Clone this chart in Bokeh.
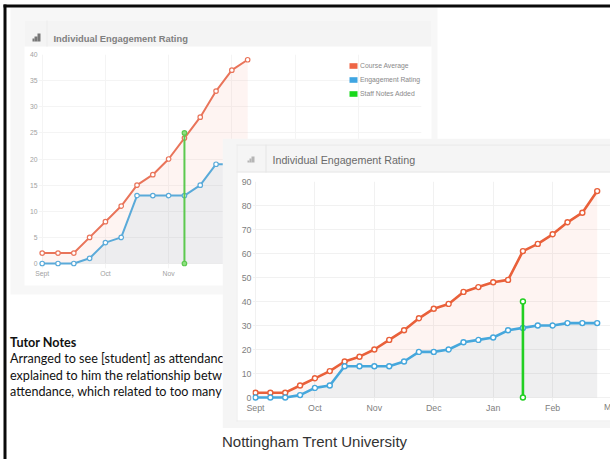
from bokeh.embed import file_html
from bokeh.resources import INLINE
from bokeh.plotting import figure
from bokeh.core.properties import value
from bokeh.models import Range1d, FixedTicker, Legend, LegendItem

# ---- data ----
month_labels = ["Sept", "Oct", "Nov", "Dec", "Jan", "Feb"]
month_ticks = [0, 4, 8, 12, 16, 20]
weeks_all = list(range(24))
course_avg_all = [2, 2, 2, 5, 8, 11, 15, 17, 20, 24, 28, 33, 37, 39, 44, 46, 48, 49, 61, 64, 68, 73, 77, 86]
engagement_all = [0, 0, 0, 1, 4, 5, 13, 13, 13, 13, 15, 19, 19, 20, 23, 24, 25, 28, 29, 30, 30, 31, 31, 31]
weeks_early = weeks_all[:14]
course_avg_early = course_avg_all[:14]
engagement_early = engagement_all[:14]
notes_x_early = [9, 9]
notes_y_early = [0, 25]
notes_x_all = [18, 18]
notes_y_all = [0, 40]
yticks_early = [0, 5, 10, 15, 20, 25, 30, 35, 40]
yticks_all = [0, 10, 20, 30, 40, 50, 60, 70, 80, 90]
legend_names = ["Course Average", "Engagement Rating", "Staff Notes Added"]
title_text = "Individual Engagement Rating"
last_month = "Mar"
notes_title = "Tutor Notes"
notes_lines = ["Arranged to see [student] as attendanc",
               "explained to him the relationship betw",
               "attendance, which related to too many"]
footer = "Nottingham Trent University"

PAGE_W, PAGE_H = 610, 459
NAN = float("nan")


def place(x, y):
    return {"position": "absolute", "left": f"{x}px", "top": f"{y}px"}


def sheet(x, y, w, h):
    """A transparent drawing sheet whose scales are the page's own pixels."""
    p = figure(width=w, height=h, output_backend="svg", toolbar_location=None,
               x_range=Range1d(x, x + w), y_range=Range1d(y + h, y),
               min_border=0, min_border_left=0, min_border_right=0, min_border_top=0, min_border_bottom=0,
               outline_line_color=None, border_fill_alpha=0, background_fill_alpha=0,
               x_axis_location=None, y_axis_location=None, styles=place(x, y))
    p.grid.visible = False
    return p


def box(p, l, t, r, b, color):
    p.quad(left=[l], right=[r], top=[t], bottom=[b], fill_color=color, line_alpha=0, line_width=0)


def label(p, x, y, text, size, color, font="Liberation Sans", style="normal", align="left"):
    p.text(x=[x], y=[y], text=[text], text_font=value(font), text_font_size=value(size),
           text_color=color, text_font_style=style, text_align=align, text_baseline="middle")


def chart(X, Y, W, H, L, R, T, B, px, py, x0, y0, ytop):
    p = figure(width=W, height=H, output_backend="svg", toolbar_location=None,
               x_range=Range1d((L - x0) / px, (R - x0) / px),
               y_range=Range1d(-(B - y0) / py, ytop),
               min_border_left=L - X, min_border_right=X + W - R, min_border_top=T - Y,
               min_border_bottom=Y + H - B, outline_line_color=None,
               border_fill_alpha=0, background_fill_alpha=0, styles=place(X, Y))
    return p


def style_axes(p, xt, yt, size, color, grid):
    p.xaxis.ticker = FixedTicker(ticks=xt)
    p.xaxis.major_label_overrides = dict(zip(xt, month_labels))
    p.yaxis.ticker = FixedTicker(ticks=yt)
    for ax in (p.xaxis[0], p.yaxis[0]):
        ax.axis_line_color = None
        ax.major_tick_line_color = None
        ax.minor_tick_line_color = None
        ax.major_tick_out = 0
        ax.major_tick_in = 0
        ax.minor_tick_out = 0
        ax.minor_tick_in = 0
        ax.major_label_standoff = 1
        ax.major_label_text_font = "Liberation Sans"
        ax.major_label_text_font_size = size
        ax.major_label_text_color = color
    p.xgrid.ticker = FixedTicker(ticks=xt + [24])
    p.ygrid.ticker = FixedTicker(ticks=yt)
    p.xgrid.grid_line_color = grid
    p.ygrid.grid_line_color = grid
    p.xgrid.bounds = (yt[0], yt[-1])
    p.ygrid.bounds = (0, 24)


# ---- page background and back panel ----
bg = sheet(0, 0, PAGE_W, PAGE_H)
box(bg, 10, 7, 437, 294, "#f7f7f7")
box(bg, 24, 20, 431, 285, "#ffffff")
box(bg, 24, 20, 431, 46, "#f4f4f4")
box(bg, 46, 20, 47, 46, "#ebebeb")
box(bg, 3, 4, PAGE_W, 7, "#0a0a0a")
box(bg, 3, 4, 6, PAGE_H, "#0a0a0a")
box(bg, 32, 38, 34, 41, "#777777")
box(bg, 34, 36, 37, 41, "#777777")
box(bg, 37, 33, 40, 41, "#777777")
label(bg, 53, 38, title_text, "9.4px", "#808080", style="bold")
label(bg, 9.5, 342, notes_title, "12.6px", "#111111", font="Lato", style="bold")
for line, y in zip(notes_lines, [358, 374.5, 390.5]):
    label(bg, 9.5, y, line, "12.6px", "#111111", font="Lato")
label(bg, 221.5, 441, footer, "15px", "#333333")

# ---- back chart ----
p1 = chart(14, 46, 417, 239, 38, 421, 54, 268, (421 - 41.7) / 24, (263 - 54) / 40, 41.7, 263, 40)
style_axes(p1, month_ticks, yticks_early, "6.8px", "#a2a2a2", "#f4f4f4")
p1.varea(weeks_early, engagement_early, course_avg_early, fill_color="#f58a6a", fill_alpha=0.09)
p1.varea(weeks_early, 0, engagement_early, fill_color="#6a6e78", fill_alpha=0.12)
p1.line(weeks_early, course_avg_early, line_color="#e9745a", line_width=2)
p1.scatter(weeks_early, course_avg_early, size=4.5, fill_color="white", line_color="#e9745a", line_width=1.2)
p1.line(weeks_early, engagement_early, line_color="#5aaad9", line_width=2)
p1.scatter(weeks_early, engagement_early, size=4.5, fill_color="white", line_color="#5aaad9", line_width=1.2)
p1.line(notes_x_early, notes_y_early, line_color="#5cc94f", line_width=2)
p1.scatter(notes_x_early, notes_y_early, size=4.5, fill_color="#8ee080", line_color="#5cc94f", line_width=1.2)

sw_colors = ["#ee6545", "#3fa5e2", "#19d81c"]
sw = [p1.vbar(x=[NAN], top=[NAN], width=1, fill_color=c, line_color=c, line_width=0) for c in sw_colors]
legend = Legend(items=[LegendItem(label=n, renderers=[r]) for n, r in zip(legend_names, sw)],
                location=(310, 171), padding=0, margin=0, spacing=7,
                glyph_width=10, glyph_height=7, label_height=7, label_standoff=2,
                label_text_font="Liberation Sans", label_text_font_size="6.8px",
                label_text_color="#8a8a8a", background_fill_alpha=0, border_line_alpha=0)
p1.add_layout(legend, "center")

# ---- front panel ----
X2, Y2, W2, H2 = 222, 138, 388, 290
bg2 = sheet(X2, Y2, W2, H2)
box(bg2, X2, Y2, 610, 428, "#f5f5f5")
box(bg2, 236, 144, 610, 421, "#ffffff")
box(bg2, 236, 144, 610, 172, "#f5f5f5")
box(bg2, 236, 144, 610, 145, "#e8e8e8")
box(bg2, 236, 171, 610, 172, "#e8e8e8")
box(bg2, 236, 144, 237, 421, "#ececec")
box(bg2, 236, 420, 610, 421, "#ececec")
box(bg2, 265, 144, 266, 172, "#e6e6e6")
box(bg2, 247, 160, 249, 162, "#b5b5b5")
box(bg2, 249, 158, 251, 162, "#b5b5b5")
box(bg2, 251, 156, 254, 162, "#b5b5b5")
label(bg2, 272, 159, title_text, "10.7px", "#6a6a6a")
label(bg2, 611, 406.5, last_month, "8.8px", "#808080", align="center")

# ---- front chart ----
p2 = chart(X2, Y2, W2, H2, 252, 610, 181, 401, (596.7 - 255) / 23, (397 - 181) / 90, 255, 397, 90)
style_axes(p2, month_ticks, yticks_all, "8.8px", "#808080", "#f1f1f1")
p2.varea(weeks_all, engagement_all, course_avg_all, fill_color="#f58a6a", fill_alpha=0.09)
p2.varea(weeks_all, 0, engagement_all, fill_color="#6a6e78", fill_alpha=0.11)
p2.line(weeks_all, course_avg_all, line_color="#e9603a", line_width=2.6)
p2.scatter(weeks_all, course_avg_all, size=5, fill_color="white", line_color="#e9603a", line_width=1.4)
p2.line(weeks_all, engagement_all, line_color="#46a7dc", line_width=2.6)
p2.scatter(weeks_all, engagement_all, size=5, fill_color="white", line_color="#46a7dc", line_width=1.4)
p2.line(notes_x_all, notes_y_all, line_color="#22cf22", line_width=2.6)
p2.scatter(notes_x_all, notes_y_all, size=5, fill_color="white", line_color="#22cf22", line_width=1.4)

open("out.html", "w").write(file_html([bg, p1, bg2, p2], INLINE))
